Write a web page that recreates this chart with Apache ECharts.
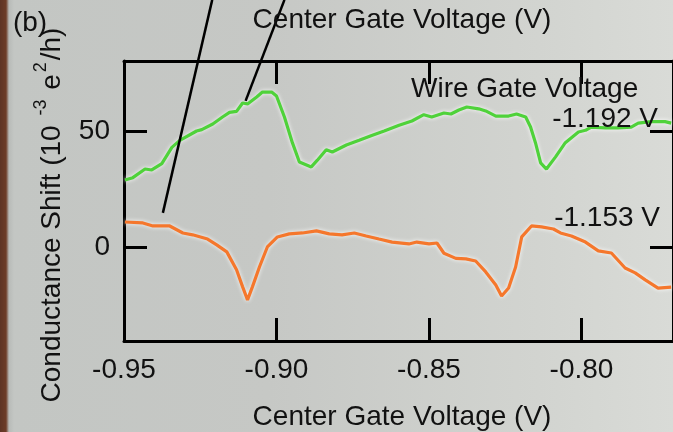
<!DOCTYPE html>
<html>
<head>
<meta charset="utf-8">
<script src="https://cdn.jsdelivr.net/npm/echarts@6/dist/echarts.min.js"></script>
<style>
html,body{margin:0;padding:0;}
#c{width:673px;height:432px;background:linear-gradient(90deg,#5e3424 0px,#6d3c27 6px,#b8bbb8 9px,#c3c6c3 14px,#c6c8c5 40%,#d2d4d0 80%,#d9dbd7 100%);}
</style>
</head>
<body>
<div id="c"></div>
<script>
// Wire gate voltage -1.192 V (green)
const greenX = [-0.9497,-0.9471,-0.9431,-0.9409,-0.9376,-0.9343,-0.9317,-0.9262,-0.9245,-0.9209,-0.9177,-0.9154,-0.9131,-0.9111,-0.9095,-0.9065,-0.9046,-0.9016,-0.9000,-0.8974,-0.8948,-0.8925,-0.8886,-0.8866,-0.8837,-0.8817,-0.8771,-0.8729,-0.8690,-0.8647,-0.8598,-0.8556,-0.8517,-0.8491,-0.8451,-0.8428,-0.8402,-0.8376,-0.8337,-0.8314,-0.8281,-0.8239,-0.8213,-0.8183,-0.8167,-0.8151,-0.8134,-0.8115,-0.8085,-0.8053,-0.8010,-0.7987,-0.7968,-0.7922,-0.7880,-0.7837,-0.7814,-0.7772,-0.7726,-0.7706];
const greenY = [29,30,33.7,33.3,36,43,46,50,50.6,53,56,58,58.4,62,61.6,64.6,66.7,66.7,65,56,45,36.7,34.6,37.5,42,41,44,46,48,50,52.5,54.3,57,56,57.7,57.3,59,60.3,59.5,58.6,56.4,56.4,57.3,56,51.7,45,36.3,33.7,38.9,45,49.6,50.3,51.7,51.3,51.3,51.7,53.4,54,54,53.4];
// Wire gate voltage -1.153 V (orange)
const orangeX = [-0.9497,-0.9438,-0.9405,-0.9350,-0.9307,-0.9275,-0.9226,-0.9196,-0.9163,-0.9131,-0.9111,-0.9095,-0.9079,-0.9056,-0.9030,-0.8997,-0.8958,-0.8915,-0.8869,-0.8827,-0.8785,-0.8745,-0.8706,-0.8664,-0.8621,-0.8566,-0.8540,-0.8500,-0.8474,-0.8451,-0.8412,-0.8379,-0.8347,-0.8314,-0.8281,-0.8262,-0.8239,-0.8216,-0.8196,-0.8164,-0.8131,-0.8092,-0.8069,-0.8033,-0.7987,-0.7945,-0.7902,-0.7857,-0.7824,-0.7791,-0.7749,-0.7706];
const orangeY = [11,10.6,9.3,9.3,6.3,5.5,3.7,1.2,-1.8,-9.5,-16.8,-22.4,-16.8,-8.3,0.3,4.6,5.9,6.3,7.2,5.9,5.5,6.3,5,3.7,2.4,1.6,2.4,1.6,2.0,-2.4,-4.6,-4.8,-5.7,-10.4,-16,-20.7,-17.3,-8.3,4.6,9.3,8.9,8,6.3,5,2.4,-1.4,-2.3,-8.7,-10.8,-13.8,-17.3,-16.9];
const xTicks = [-0.95,-0.90,-0.85,-0.80];
const yTicks = [0,50];
const seriesNames = ['-1.192 V','-1.153 V'];
// annotation pointer lines (data space: [x,y] ends)
const pointerA = [[-0.93725,14.9],[-0.92108,106.2]];
const pointerB = [[-0.91013,62.9],[-0.89739,106.2]];

const FONT = '"Liberation Sans", Arial, Helvetica, sans-serif';
const chart = echarts.init(document.getElementById('c'), null, {renderer:'canvas'});
const zip = (xs, ys) => xs.map((x,i)=>[x, ys[i]]);
const frameLine = {show:true, onZero:false, lineStyle:{color:'#000', width:3}};
const tickIn = (vals) => ({show:true, inside:true, length:23, lineStyle:{color:'#000', width:3}, customValues: vals});
const halo = {shadowColor:'rgba(255,255,255,0.95)', shadowBlur:4};

chart.setOption({
  backgroundColor:'transparent',
  animation:false,
  textStyle:{fontFamily:FONT},
  grid:{left:124, top:61, bottom:91, right:-2},
  xAxis:[{
    type:'value', position:'bottom', min:-0.95, max:-0.77,
    axisLine:frameLine, axisTick:tickIn(xTicks), splitLine:{show:false},
    axisLabel:{show:true, customValues:xTicks, formatter:(v)=>v.toFixed(2), color:'#111', fontSize:28, fontFamily:FONT, margin:15}
  },{
    type:'value', position:'top', min:-0.95, max:-0.77,
    axisLine:frameLine, axisTick:tickIn(xTicks), axisLabel:{show:false}, splitLine:{show:false}
  }],
  yAxis:[{
    type:'value', position:'left', min:-40, max:80,
    axisLine:frameLine, axisTick:tickIn(yTicks), splitLine:{show:false},
    axisLabel:{show:true, customValues:yTicks, color:'#111', fontSize:28, fontFamily:FONT, margin:14}
  },{
    type:'value', position:'right', min:-40, max:80,
    axisLine:frameLine, axisTick:tickIn(yTicks), axisLabel:{show:false}, splitLine:{show:false}
  }],
  series:[{
    name:seriesNames[0], type:'line', data:zip(greenX, greenY), showSymbol:false, symbol:'none',
    lineStyle:Object.assign({color:'#4fd23a', width:3.2}, halo), z:3
  },{
    name:seriesNames[1], type:'line', data:zip(orangeX, orangeY), showSymbol:false, symbol:'none',
    lineStyle:Object.assign({color:'#f5772c', width:3.2}, halo), z:3
  }]
});

const p = (pt) => chart.convertToPixel({xAxisIndex:0, yAxisIndex:0}, pt);
const mkLine = (seg) => { const a=p(seg[0]), b=p(seg[1]); return {type:'line', shape:{x1:a[0],y1:a[1],x2:b[0],y2:b[1]}, style:{stroke:'#000', lineWidth:2.5}, z:10}; };
const txt = (t, x, y, align, extra) => Object.assign({type:'text', x:x, y:y, z:20, style:Object.assign({text:t, fill:'#111', font:'28px '+FONT, align:align, verticalAlign:'middle'}, extra||{})});

chart.setOption({
  graphic:[
    mkLine(pointerA), mkLine(pointerB),
    txt('(b)', 30, 23, 'center'),
    txt('Center Gate Voltage (V)', 402, 20, 'center'),
    txt('Center Gate Voltage (V)', 402, 417, 'center'),
    txt('Wire Gate Voltage', 411, 89, 'left'),
    txt(seriesNames[0], 658, 119, 'right'),
    txt(seriesNames[1], 660, 218, 'right'),
    {type:'text', x:49, y:215, rotation:Math.PI/2, z:20, style:{
      text:'{n|Conductance Shift (10 }{s|-3}{n| e}{s|2}{n|/h)}', align:'center', verticalAlign:'middle',
      rich:{n:{fontSize:28, fontFamily:FONT, fill:'#111', lineHeight:34, verticalAlign:'bottom'}, s:{fontSize:18, fontFamily:FONT, fill:'#111', lineHeight:34, verticalAlign:'top', padding:[0,2,0,2]}}
    }}
  ]
});
</script>
</body>
</html>
